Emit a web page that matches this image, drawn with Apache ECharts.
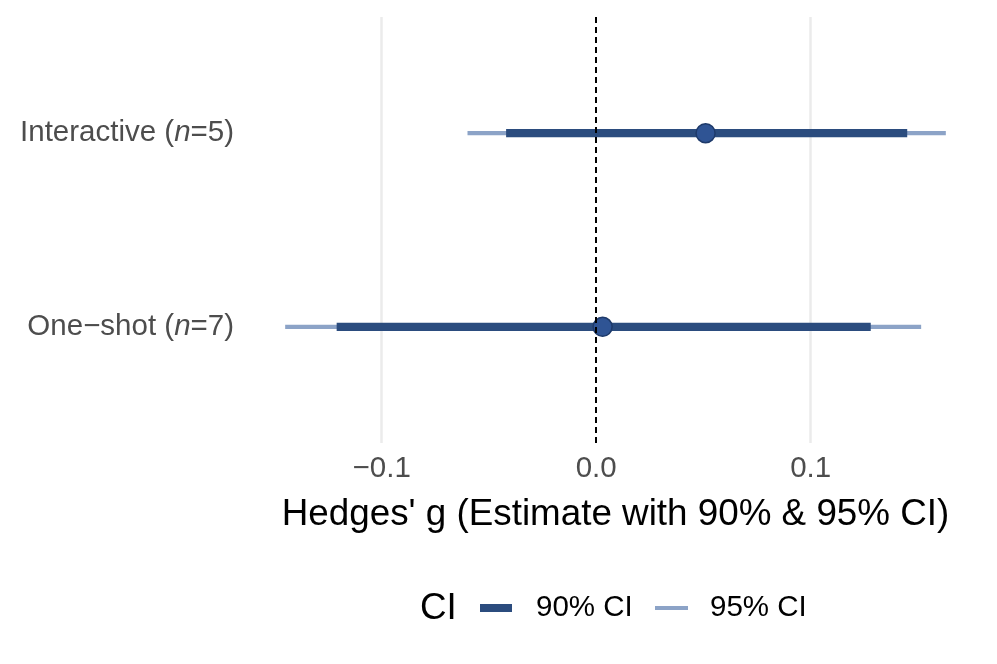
<!DOCTYPE html>
<html>
<head>
<meta charset="utf-8">
<script src="https://cdn.jsdelivr.net/npm/echarts@6/dist/echarts.min.js"></script>
<style>html,body{margin:0;padding:0;background:#fff}#c{width:997px;height:664px}</style>
</head>
<body>
<div id="c"></div>
<script>
// ---- data ----
const groups = ['Interactive', 'One\u2212shot'];
const nValues = [5, 7];
const yPos = [2, 1];
const estimates = [0.051, 0.003];
const ci90Low = [-0.042, -0.121];
const ci90High = [0.145, 0.128];
const ci95Low = [-0.060, -0.145];
const ci95High = [0.163, 0.1515];
const xTicks = [-0.1, 0.0, 0.1];
const xTickLabels = ['\u22120.1', '0.0', '0.1'];

const FONT = '"Liberation Sans", Arial, Helvetica, sans-serif';
const SMALL = 29.5;
const LARGE = 36.8;
const chart = echarts.init(document.getElementById('c'));

function ciData(lo, hi) {
  return groups.map((g, i) => [lo[i], hi[i], yPos[i]]);
}
function ciRender(width, color) {
  return function (params, api) {
    const p1 = api.coord([api.value(0), api.value(2)]);
    const p2 = api.coord([api.value(1), api.value(2)]);
    return {
      type: 'line',
      shape: { x1: p1[0], y1: p1[1], x2: p2[0], y2: p2[1] },
      style: { stroke: color, lineWidth: width, lineCap: 'butt' }
    };
  };
}

const c90 = '#2B4C7E';
const c95 = '#8CA3C7';

chart.setOption({
  animation: false,
  backgroundColor: '#fff',
  grid: { left: 253, right: 19, top: 17, bottom: 221, containLabel: false },
  xAxis: {
    type: 'value', min: -0.16, max: 0.178,
    axisLine: { show: false }, axisTick: { show: false }, splitLine: { show: false },
    axisLabel: {
      customValues: xTicks,
      formatter: v => { const i = xTicks.findIndex(t => Math.abs(t - v) < 1e-9); return i >= 0 ? xTickLabels[i] : ''; },
      color: '#4D4D4D', fontSize: SMALL, fontFamily: FONT, margin: 11
    },
    name: "Hedges' g (Estimate with 90% & 95% CI)",
    nameLocation: 'middle', nameGap: 53,
    nameTextStyle: { color: '#000', fontSize: LARGE, fontFamily: FONT }
  },
  yAxis: {
    type: 'value', min: 0.4, max: 2.6,
    axisLine: { show: false }, axisTick: { show: false }, splitLine: { show: false },
    axisLabel: {
      customValues: yPos,
      margin: 19,
      formatter: v => {
        const i = yPos.findIndex(t => Math.abs(t - v) < 1e-9);
        if (i < 0) return '';
        return '{a|' + groups[i] + ' (}{i|n}{a|=' + nValues[i] + ')}';
      },
      rich: {
        a: { color: '#4D4D4D', fontSize: SMALL, fontFamily: FONT },
        i: { color: '#4D4D4D', fontSize: SMALL, fontFamily: FONT, fontStyle: 'italic' }
      }
    }
  },
  title: {
    text: 'CI', left: 415, top: 585,
    textStyle: { color: '#000', fontSize: LARGE, fontWeight: 'normal', fontFamily: FONT }
  },
  legend: [
    {
      data: ['90% CI'], left: 475, top: 588, itemWidth: 32, itemHeight: 8, icon: 'rect',
      textStyle: { color: '#000', fontSize: SMALL, fontFamily: FONT, padding: [0, 0, 0, 19] }
    },
    {
      data: ['95% CI'], left: 650, top: 588, itemWidth: 33, itemHeight: 4, icon: 'rect',
      textStyle: { color: '#000', fontSize: SMALL, fontFamily: FONT, padding: [0, 0, 0, 17] }
    }
  ],
  series: [
    {
      name: 'grid', type: 'scatter', data: [], z: 1, silent: true,
      markLine: {
        z: 1, symbol: 'none', silent: true, label: { show: false },
        lineStyle: { color: '#EBEBEB', width: 2.5, type: 'solid' },
        data: [{ xAxis: xTicks[0] }, { xAxis: xTicks[2] }]
      }
    },
    {
      name: '95% CI', type: 'custom', z: 2, itemStyle: { color: c95 },
      renderItem: ciRender(4.3, c95), data: ciData(ci95Low, ci95High)
    },
    {
      name: '90% CI', type: 'custom', z: 3, itemStyle: { color: c90 },
      renderItem: ciRender(8.3, c90), data: ciData(ci90Low, ci90High)
    },
    {
      name: 'est', type: 'scatter', z: 4, symbolSize: 19,
      itemStyle: { color: '#2F5494', borderColor: '#1E3A6A', borderWidth: 1.5, opacity: 1 },
      data: groups.map((g, i) => [estimates[i], yPos[i]])
    },
    {
      name: 'zero', type: 'scatter', data: [], z: 10, silent: true,
      markLine: {
        z: 10, symbol: 'none', silent: true, label: { show: false },
        lineStyle: { color: '#000', width: 2, type: [6, 4] },
        data: [{ xAxis: 0 }]
      }
    }
  ]
});
</script>
</body>
</html>
